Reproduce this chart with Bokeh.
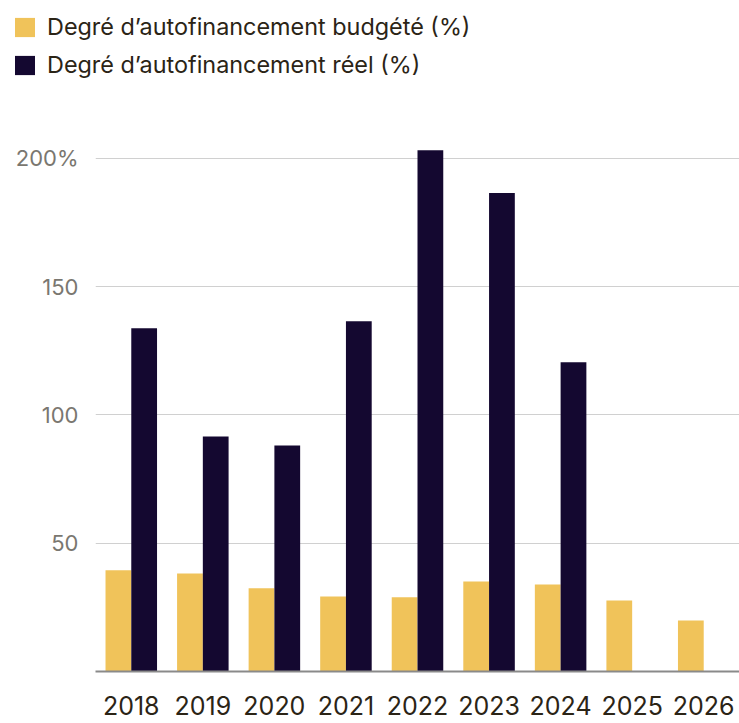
from bokeh.plotting import figure
from bokeh.layouts import column
from bokeh.models import ColumnDataSource, Legend, LegendItem, FixedTicker, Range1d
from bokeh.transform import dodge
from bokeh.embed import file_html
from bokeh.resources import INLINE

years = ["2018", "2019", "2020", "2021", "2022", "2023", "2024", "2025", "2026"]
budgete = [39.4, 38.2, 32.4, 29.2, 28.9, 35.1, 33.9, 27.7, 19.9]
reel = [133.7, 91.6, 88.1, 136.5, 203.1, 186.4, 120.5, float("nan"), float("nan")]
y_ticks = [50, 100, 150, 200]
label_b = "Degré d\u2019autofinancement budgété (%)"
label_r = "Degré d\u2019autofinancement réel (%)"

FONT = "Inter"
YELLOW = "#F0C35A"
DARK = "#140830"
src = ColumnDataSource(dict(years=years, budgete=budgete, reel=reel))

LEG_H = 100
p = figure(x_range=years, y_range=Range1d(0, 210), width=739, height=723 - LEG_H,
           output_backend="svg", toolbar_location=None,
           min_border_left=95, min_border_right=0, min_border_top=132 - LEG_H,
           min_border_bottom=52)
p.outline_line_color = None
p.background_fill_color = "white"

p.vbar(x=dodge("years", -0.18, range=p.x_range), top="budgete", width=0.36,
       source=src, fill_color=YELLOW, line_color=None)
p.vbar(x=dodge("years", 0.18, range=p.x_range), top="reel", width=0.36,
       source=src, fill_color=DARK, line_color=None)

p.xgrid.grid_line_color = None
p.ygrid.grid_line_color = "#d0d0d0"
p.ygrid.grid_line_width = 1
p.yaxis.ticker = FixedTicker(ticks=y_ticks)
p.yaxis.major_label_overrides = {200: "200%"}
p.yaxis.axis_line_color = None
p.yaxis.major_tick_line_color = None
p.yaxis.minor_tick_line_color = None
p.yaxis.major_label_text_color = "#7a7770"
p.yaxis.major_label_text_font = FONT
p.yaxis.major_label_text_font_size = "22px"
p.yaxis.major_label_standoff = 11

p.xaxis.axis_line_color = "#8a8a8a"
p.xaxis.axis_line_width = 2
p.xaxis.major_tick_line_color = None
p.xaxis.minor_tick_line_color = None
p.xaxis.major_label_text_color = "#2b2416"
p.xaxis.major_label_text_font = FONT
p.xaxis.major_label_text_font_size = "25px"
p.xaxis.major_label_standoff = 18
p.x_range.range_padding = 0

# legend strip above the chart (its own figure so the legend is not clipped)
lf = figure(x_range=years, y_range=Range1d(0, 210), width=739, height=LEG_H,
            output_backend="svg", toolbar_location=None,
            min_border_left=0, min_border_right=0, min_border_top=0, min_border_bottom=0)
lf.frame_align = False
lf.axis.visible = False
lf.grid.visible = False
lf.outline_line_color = None
lb = lf.vbar(x="years", top="budgete", width=0.36, source=src,
             fill_color=YELLOW, line_color=None, visible=False)
lr = lf.vbar(x="years", top="reel", width=0.36, source=src,
             fill_color=DARK, line_color=None, visible=False)

legend = Legend(items=[LegendItem(label=label_b, renderers=[lb]),
                       LegendItem(label=label_r, renderers=[lr])],
                location=(12, 21), orientation="vertical")
legend.padding = 0
legend.margin = 0
legend.border_line_color = None
legend.background_fill_alpha = 0
legend.inactive_fill_alpha = 0
legend.glyph_width = 25
legend.glyph_height = 24
legend.label_height = 24
legend.spacing = 9
legend.label_standoff = 10
legend.label_text_font = FONT
legend.label_text_font_size = "23.4px"
legend.label_text_color = "#2b2416"
lf.add_layout(legend, "center")

layout = column(lf, p, spacing=0)
open("out.html", "w").write(file_html(layout, INLINE))
